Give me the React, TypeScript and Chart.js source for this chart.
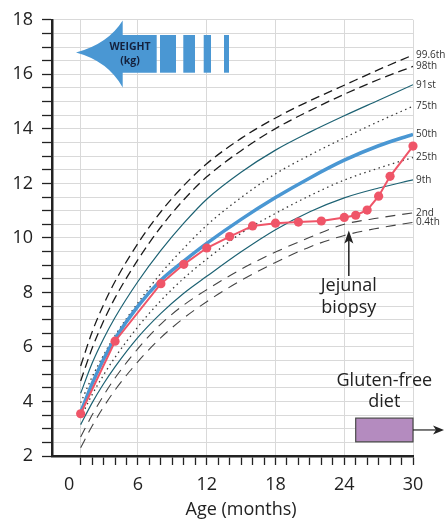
import React, { useEffect, useRef } from 'react';
import { Chart, registerables } from 'chart.js';

Chart.register(...registerables);

const FONT = '"Open Sans", "Noto Sans", sans-serif';

// Percentile reference curves (months → kg)
const curveMonths = [1, 2, 3, 4, 6, 8, 10, 12, 15, 18, 21, 24, 27, 30];
const p996 = [5.3, 6.55, 7.55, 8.4, 9.8, 10.96, 11.92, 12.72, 13.65, 14.4, 15.03, 15.6, 16.17, 16.71];
const p98 = [4.75, 5.95, 6.95, 7.8, 9.2, 10.4, 11.4, 12.24, 13.2, 14.01, 14.67, 15.27, 15.81, 16.29];
const p91 = [4.3, 5.4, 6.3, 7.08, 8.4, 9.54, 10.54, 11.42, 12.41, 13.22, 13.88, 14.48, 15.05, 15.62];
const p75 = [3.95, 4.9, 5.7, 6.42, 7.62, 8.7, 9.62, 10.46, 11.48, 12.35, 13.04, 13.67, 14.27, 14.83];
const p50 = [3.6, 4.65, 5.55, 6.3, 7.5, 8.45, 9.15, 9.8, 10.68, 11.48, 12.2, 12.85, 13.38, 13.8];
const p25 = [3.4, 4.25, 4.97, 5.62, 6.74, 7.7, 8.52, 9.22, 10.17, 10.9, 11.55, 12.12, 12.56, 12.95];
const p9 = [3.15, 3.95, 4.65, 5.27, 6.35, 7.23, 7.97, 8.59, 9.49, 10.3, 10.96, 11.47, 11.83, 12.13];
const p2 = [2.7, 3.5, 4.22, 4.86, 5.94, 6.84, 7.54, 8.1, 8.85, 9.48, 10.02, 10.5, 10.73, 10.92];
const p04 = [2.3, 3.1, 3.8, 4.42, 5.46, 6.34, 7.06, 7.66, 8.44, 9.1, 9.67, 10.09, 10.36, 10.57];

// Child's measured weights
const childMonths = [1, 4, 8, 10, 12, 14, 16, 18, 20, 22, 24, 25, 26, 27, 28, 30];
const childWeights = [3.55, 6.21, 8.32, 9.03, 9.63, 10.05, 10.44, 10.54, 10.58, 10.62, 10.75, 10.83, 11.02, 11.53, 12.26, 13.37];

// Axis ticks
const xTickMonths = [0, 1, 2, 3, 4, 5, 6, 7, 8, 9, 10, 11, 12, 13, 14, 15, 16, 17, 18, 19, 20, 21, 22, 23, 24, 25, 26, 27, 28, 29, 30];
const xTickLabels = [0, 6, 12, 18, 24, 30];
const xGridMonths = [1, 6, 12, 18, 24, 30];
const yLabelValues = [2, 4, 6, 8, 10, 12, 14, 16, 18];

// Annotations
const biopsyMonth = 24.4;
const biopsyTipKg = 10.27;
const biopsyTailKg = 8.6;
const dietStartMonth = 25;
const dietEndMonth = 30;
const dietBoxTopKg = 3.39;
const dietBoxBottomKg = 2.52;

const pts = (xs: number[], ys: number[]) => xs.map((x, i) => ({ x, y: ys[i] }));

const TEAL = '#1d6273';
const DOT = '#3a3a3a';

const curve = (label: string, data: number[], color: string, width: number, dash: number[]) => ({
  label,
  endLabel: label,
  data: pts(curveMonths, data),
  borderColor: color,
  borderWidth: width,
  borderDash: dash,
  pointRadius: 0,
  cubicInterpolationMode: 'monotone',
  fill: false,
  order: 2,
});

const decorPlugin = {
  id: 'decor',
  afterDatasetsDraw(chart: any) {
    const { ctx } = chart;
    const x = chart.scales.x;
    const y = chart.scales.y;
    ctx.save();

    // Percentile labels at curve ends
    ctx.font = `10px ${FONT}`;
    ctx.fillStyle = '#333';
    ctx.textAlign = 'left';
    ctx.textBaseline = 'middle';
    chart.data.datasets.forEach((ds: any, i: number) => {
      if (!ds.endLabel) return;
      const meta = chart.getDatasetMeta(i);
      const last = meta.data[meta.data.length - 1];
      ctx.fillText(ds.endLabel, last.x + 3, last.y);
    });

    // WEIGHT (kg) arrow
    ctx.fillStyle = '#4a97d3';
    ctx.beginPath();
    ctx.moveTo(76, 52.5);
    ctx.quadraticCurveTo(108, 44, 122.7, 20.5);
    ctx.lineTo(122.7, 35);
    ctx.lineTo(156.7, 35);
    ctx.lineTo(156.7, 72.7);
    ctx.lineTo(122.7, 72.7);
    ctx.lineTo(122.7, 87.5);
    ctx.quadraticCurveTo(108, 61, 76, 52.5);
    ctx.closePath();
    ctx.fill();
    [[160, 176], [183.3, 195], [203.7, 211], [224, 229]].forEach(([a, b]) => {
      ctx.fillRect(a, 35, b - a, 37.7);
    });
    ctx.fillStyle = '#14213d';
    ctx.font = `bold 10.5px ${FONT}`;
    ctx.textAlign = 'center';
    ctx.fillText('WEIGHT', 130, 47);
    ctx.fillText('(kg)', 130, 61);

    // Jejunal biopsy arrow
    const bx = x.getPixelForValue(biopsyMonth);
    const tipY = y.getPixelForValue(biopsyTipKg);
    const tailY = y.getPixelForValue(biopsyTailKg);
    ctx.strokeStyle = '#222';
    ctx.fillStyle = '#222';
    ctx.lineWidth = 1.5;
    ctx.beginPath();
    ctx.moveTo(bx, tailY);
    ctx.lineTo(bx, tipY + 8);
    ctx.stroke();
    ctx.beginPath();
    ctx.moveTo(bx, tipY);
    ctx.lineTo(bx - 4.5, tipY + 13);
    ctx.lineTo(bx, tipY + 10);
    ctx.lineTo(bx + 4.5, tipY + 13);
    ctx.closePath();
    ctx.fill();
    ctx.font = `18px ${FONT}`;
    ctx.fillStyle = '#222';
    ctx.textAlign = 'center';
    ctx.fillText('Jejunal', bx, tailY + 10);
    ctx.fillText('biopsy', bx, tailY + 32);

    // Gluten-free diet box
    const gx0 = x.getPixelForValue(dietStartMonth);
    const gx1 = x.getPixelForValue(dietEndMonth);
    const gy0 = y.getPixelForValue(dietBoxTopKg);
    const gy1 = y.getPixelForValue(dietBoxBottomKg);
    ctx.fillStyle = '#b48bbf';
    ctx.fillRect(gx0, gy0, gx1 - gx0, gy1 - gy0);
    ctx.strokeStyle = '#4a4a4a';
    ctx.lineWidth = 1.2;
    ctx.strokeRect(gx0, gy0, gx1 - gx0, gy1 - gy0);
    const gmy = (gy0 + gy1) / 2;
    ctx.strokeStyle = '#222';
    ctx.beginPath();
    ctx.moveTo(gx1, gmy);
    ctx.lineTo(gx1 + 24, gmy);
    ctx.stroke();
    ctx.fillStyle = '#222';
    ctx.beginPath();
    ctx.moveTo(gx1 + 31, gmy);
    ctx.lineTo(gx1 + 20, gmy - 4.5);
    ctx.lineTo(gx1 + 23, gmy);
    ctx.lineTo(gx1 + 20, gmy + 4.5);
    ctx.closePath();
    ctx.fill();
    const gcx = (gx0 + gx1) / 2;
    ctx.font = `18px ${FONT}`;
    ctx.textAlign = 'center';
    ctx.fillText('Gluten-free', gcx, gy0 - 37);
    ctx.fillText('diet', gcx, gy0 - 16);

    // X axis title
    ctx.fillText('Age (months)', x.getPixelForValue(15), 510);

    ctx.restore();
  },
};

export default function App() {
  const ref = useRef<HTMLCanvasElement>(null);
  useEffect(() => {
    const chart = new Chart(ref.current as HTMLCanvasElement, {
      type: 'line',
      data: {
        datasets: [
          {
            label: 'Weight',
            data: pts(childMonths, childWeights),
            borderColor: '#ef5568',
            backgroundColor: '#ef5568',
            borderWidth: 2,
            pointRadius: 4.6,
            pointBorderWidth: 0,
            tension: 0,
            clip: false,
            order: 0,
          } as any,
          { ...curve('50th', p50, '#4a97d3', 3.5, []), order: 1 } as any,
          curve('99.6th', p996, '#1b1b1b', 1.3, [9, 5]) as any,
          curve('98th', p98, '#1b1b1b', 1.3, [9, 5]) as any,
          curve('91st', p91, TEAL, 1.2, []) as any,
          curve('75th', p75, DOT, 1.3, [1.5, 3.5]) as any,
          curve('25th', p25, DOT, 1.3, [1.5, 3.5]) as any,
          curve('9th', p9, TEAL, 1.2, []) as any,
          curve('2nd', p2, '#444', 1.1, [10, 7]) as any,
          curve('0.4th', p04, '#444', 1.1, [10, 7]) as any,
        ],
      },
      options: {
        responsive: false,
        maintainAspectRatio: false,
        animation: false,
        layout: { padding: { top: 15, right: 34, left: 0, bottom: 0 } },
        plugins: { legend: { display: false }, tooltip: { enabled: false } },
        scales: {
          x: {
            type: 'linear',
            min: -1.5,
            max: 30,
            afterBuildTicks: (s: any) => {
              s.ticks = xTickMonths.map((v) => ({ value: v }));
            },
            afterFit: (s: any) => {
              s.height = 67;
            },
            ticks: {
              autoSkip: false,
              maxRotation: 0,
              padding: 9,
              color: '#222',
              font: { family: FONT, size: 18 },
              callback: (v: any) => (xTickLabels.includes(Number(v)) ? String(v) : ''),
            },
            grid: {
              color: (c: any) => (c.tick && xGridMonths.includes(c.tick.value) ? '#d9d9d9' : 'rgba(0,0,0,0)'),
              tickColor: (c: any) => (c.tick && c.tick.value === 0 ? 'rgba(0,0,0,0)' : '#222'),
              lineWidth: 1,
              tickLength: 9,
              tickWidth: 1.3,
            },
            border: { display: true, color: '#222', width: 2.5 },
          },
          y: {
            type: 'linear',
            min: 2,
            max: 18,
            afterFit: (s: any) => {
              s.width = 52;
            },
            ticks: {
              stepSize: 0.5,
              autoSkip: false,
              padding: 9,
              color: '#222',
              font: { family: FONT, size: 18 },
              callback: (v: any) => (yLabelValues.includes(Number(v)) ? String(v) : ''),
            },
            grid: {
              color: '#d9d9d9',
              tickColor: '#222',
              lineWidth: 1,
              tickLength: 10,
              tickWidth: 1.3,
            },
            border: { display: true, color: '#222', width: 2.5 },
          },
        },
      } as any,
      plugins: [decorPlugin as any],
    });
    return () => chart.destroy();
  }, []);
  return (
    <div style={{ position: 'fixed', left: 0, top: 0, width: 447, height: 523, background: '#fff' }}>
      <canvas ref={ref} width={447} height={523} style={{ display: 'block', width: 447, height: 523 }} />
    </div>
  );
}
